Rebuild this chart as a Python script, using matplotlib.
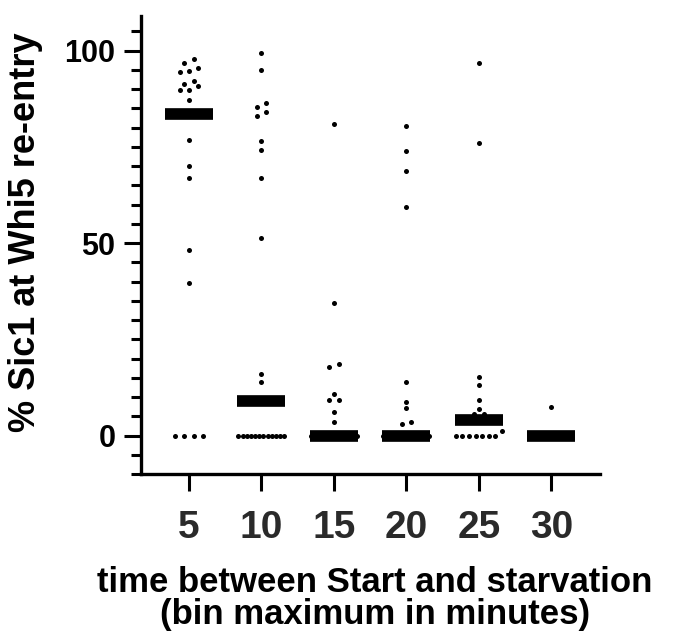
import matplotlib
matplotlib.use("Agg")
import matplotlib.pyplot as plt
from matplotlib.ticker import MultipleLocator

# values (% Sic1 at Whi5 re-entry), one list per bin
bins = ["5", "10", "15", "20", "25", "30"]
g5 = [97.7, 96.9, 95.5, 94.8, 94.4, 92.2, 91.4, 90.8, 89.8, 89.7, 87.2,
      76.9, 70.0, 66.9, 48.2, 39.5, 0, 0, 0, 0]
g10 = [99.5, 95.0, 86.5, 85.4, 84.1, 83.1, 76.6, 74.2, 66.8, 51.2, 16.1, 13.8,
       0, 0, 0, 0, 0, 0, 0, 0, 0, 0, 0, 0]
g15 = [81.0, 34.4, 18.5, 17.7, 10.9, 9.1, 9.1, 6.0, 3.4, 0, 0, 0, 0, 0, 0]
g20 = [80.5, 74.0, 68.8, 59.5, 14.0, 8.8, 7.2, 3.4, 2.9, 0, 0, 0, 0, 0, 0]
g25 = [96.8, 76.0, 15.2, 13.0, 9.1, 7.0, 5.6, 5.6, 1.1, 0, 0, 0, 0, 0, 0, 0]
g30 = [7.3, 0, 0, 0, 0, 0]
groups = [g5, g10, g15, g20, g25, g30]
bar_values = [83.5, 9.0, 0.0, 0.0, 4.0, 0.0]

plt.rcParams['font.family'] = ['Liberation Sans', 'DejaVu Sans']
plt.rcParams['font.weight'] = 'bold'

W, H = 674, 637
x0, x1 = -0.66, 5.67
y0, y1 = -10, 109
left, bottom, right, top = 141, 474, 600, 16
fig = plt.figure(figsize=(W / 100, H / 100), dpi=100)
ax = fig.add_axes([left / W, 1 - bottom / H, (right - left) / W, (bottom - top) / H])
ax.set_xlim(x0, x1)
ax.set_ylim(y0, y1)

# pixels per data unit, used to spread dots that share a value
px_x = (right - left) / (x1 - x0)
px_y = (bottom - top) / (y1 - y0)
tol = 4.6 / px_y

for i, vals in enumerate(groups):
    vals = sorted(vals)
    rows = []
    for v in vals:
        if rows and v - rows[-1][0] <= tol:
            rows[-1].append(v)
        else:
            rows.append([v])
    xs, ys = [], []
    for row in rows:
        n = len(row)
        sp = 9.3 if n < 2 else min(9.3, 46 / (n - 1))
        for k, v in enumerate(row):
            xs.append(i + (k - (n - 1) / 2) * sp / px_x)
            ys.append(v)
    ax.scatter(xs, ys, s=13, color='black', linewidths=0, zorder=4)
    ax.plot([i - 0.33, i + 0.33], [bar_values[i], bar_values[i]], color='black',
            lw=8.4, solid_capstyle='butt', zorder=3)

for s in ['top', 'right']:
    ax.spines[s].set_visible(False)
for s in ['left', 'bottom']:
    ax.spines[s].set_linewidth(2.4)
    ax.spines[s].set_capstyle('projecting')

ax.set_yticks([0, 50, 100])
ax.yaxis.set_minor_locator(MultipleLocator(5))
ax.set_xticks(range(len(bins)))
ax.set_xticklabels(bins)
ax.tick_params(axis='both', which='major', width=2.2, length=12, direction='out')
ax.tick_params(axis='y', which='minor', width=2.2, length=7)
ax.tick_params(axis='y', labelsize=22, pad=6.5)
ax.tick_params(axis='x', labelsize=28, pad=14, labelcolor='#2a2a2a')
for lab in ax.get_xticklabels() + ax.get_yticklabels():
    lab.set_fontweight('bold')

fig.text(26 / W, 1 - 232 / H, '% Sic1 at Whi5 re-entry', rotation=90,
         ha='center', va='center', fontsize=26, fontweight='bold')
# baseline of the second line
fig.text(375 / W, 1 - 624 / H,
         'time between Start and starvation\n(bin maximum in minutes)',
         ha='center', va='baseline', multialignment='center', linespacing=0.95,
         fontsize=25, fontweight='bold')

fig.savefig('out.png', dpi=100)
